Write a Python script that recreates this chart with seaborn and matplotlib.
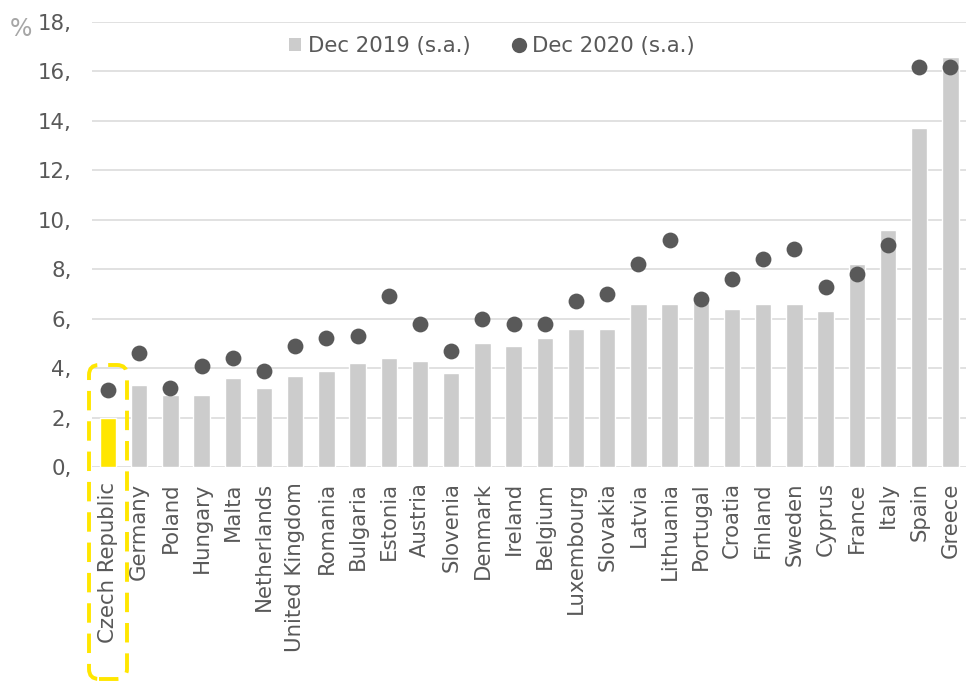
import matplotlib
matplotlib.use("Agg")
import matplotlib.pyplot as plt
from matplotlib.patches import FancyBboxPatch, Patch
from matplotlib.lines import Line2D
import seaborn as sns
import pandas as pd

countries = ["Czech Republic", "Germany", "Poland", "Hungary", "Malta", "Netherlands",
             "United Kingdom", "Romania", "Bulgaria", "Estonia", "Austria", "Slovenia",
             "Denmark", "Ireland", "Belgium", "Luxembourg", "Slovakia", "Latvia",
             "Lithuania", "Portugal", "Croatia", "Finland", "Sweden", "Cyprus",
             "France", "Italy", "Spain", "Greece"]
dec_2019 = [2.0, 3.3, 2.9, 2.9, 3.6, 3.2, 3.7, 3.9, 4.2, 4.4, 4.3, 3.8,
            5.0, 4.9, 5.2, 5.6, 5.6, 6.6, 6.6, 6.7, 6.4, 6.6, 6.6, 6.3,
            8.2, 9.6, 13.7, 16.6]
dec_2020 = [3.1, 4.6, 3.2, 4.1, 4.4, 3.9, 4.9, 5.2, 5.3, 6.9, 5.8, 4.7,
            6.0, 5.8, 5.8, 6.7, 7.0, 8.2, 9.2, 6.8, 7.6, 8.4, 8.8, 7.3,
            7.8, 9.0, 16.2, 16.2]
y_ticks = [0, 2, 4, 6, 8, 10, 12, 14, 16, 18]
legend_labels = ["Dec 2019 (s.a.)", "Dec 2020 (s.a.)"]
highlight = "Czech Republic"

BAR = "#CCCCCC"
YELLOW = "#FFE600"
DOT = "#595959"
TEXT = "#595959"
GRID = "#D9D9D9"
FS = 15.3

sns.set_theme(style="white")
plt.rcParams["font.family"] = ["DejaVu Sans"]

df = pd.DataFrame({"country": countries, "y2019": dec_2019, "y2020": dec_2020})
palette = {c: (YELLOW if c == highlight else BAR) for c in countries}

fig = plt.figure(figsize=(9.66, 6.82), dpi=100)
ax = fig.add_axes([92.4 / 966, 1 - 467 / 682, 1 - 92.4 / 966, 445 / 682])

sns.barplot(data=df, x="country", y="y2019", hue="country", palette=palette,
            width=0.53, legend=False, ax=ax, saturation=1, zorder=2)
sns.stripplot(data=df, x="country", y="y2020", color=DOT, jitter=False,
              size=11.4, linewidth=0, ax=ax, zorder=3)

ax.set_xlim(-0.5, len(countries) - 0.5)
ax.set_ylim(0, 18)
ax.set_yticks(y_ticks)
ax.set_yticklabels([f"{t}," for t in y_ticks])
ax.yaxis.grid(True, color=GRID, linewidth=1.1, zorder=0)
ax.set_axisbelow(True)
for s in ax.spines.values():
    s.set_visible(False)
ax.set_xlabel("")
ax.set_ylabel("")
ax.tick_params(axis="y", length=0, pad=15, labelsize=FS, labelcolor=TEXT)
ax.tick_params(axis="x", length=0, pad=11, labelsize=FS, labelcolor=TEXT,
               labelrotation=90)

fig.text(10 / 966, 1 - 29 / 682, "%", fontsize=17, color="#A6A6A6",
         va="center", ha="left")

handles = [Patch(facecolor=BAR, edgecolor="none"),
           Line2D([], [], marker="o", linestyle="none", markerfacecolor=DOT,
                  markeredgecolor="none", markersize=11)]
leg = ax.legend(handles, legend_labels, loc="center",
                bbox_to_anchor=(0.457, 0.946), ncol=2, frameon=False,
                fontsize=FS, handlelength=0.6, handleheight=0.6,
                handletextpad=0.3, columnspacing=2.0)
for t in leg.get_texts():
    t.set_color(TEXT)

# dashed rounded frame around the highlighted country
box = FancyBboxPatch((0.89, 0.03), 0.38, 3.14,
                     boxstyle="round,pad=0,rounding_size=0.1",
                     transform=fig.dpi_scale_trans, fill=False,
                     edgecolor=YELLOW, linewidth=2.8, capstyle="butt",
                     linestyle=(0, (5.0, 2.8)), clip_on=False)
fig.patches.append(box)

fig.savefig("out.png", dpi=100)
